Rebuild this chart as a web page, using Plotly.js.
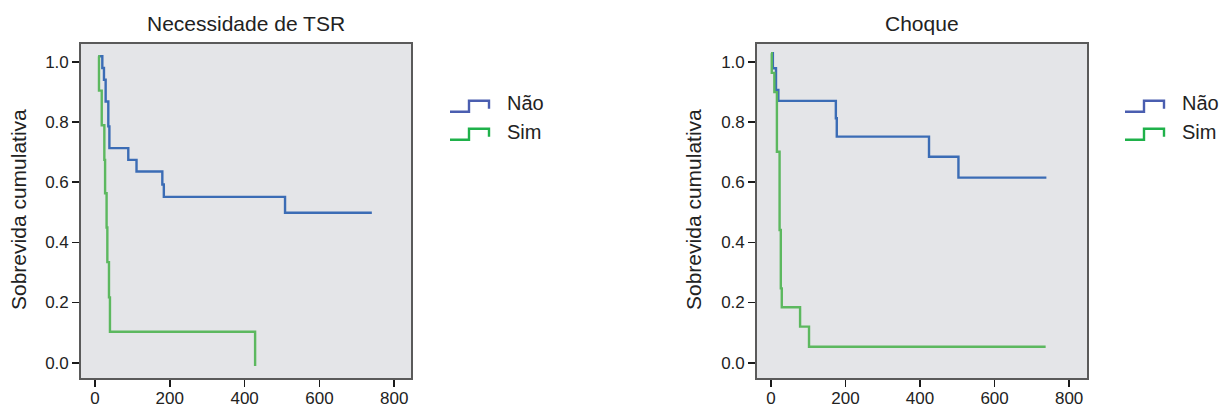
<!DOCTYPE html>
<html>
<head>
<meta charset="utf-8">
<script src="https://cdn.plot.ly/plotly-3.0.1.min.js"></script>
<style>
  html, body { margin: 0; padding: 0; background: #ffffff; }
  #chart { width: 1219px; height: 408px; }
</style>
</head>
<body>
<div id="chart"></div>
<script>
// ---- Data (days vs cumulative survival) ----
const panelTitles = ["Necessidade de TSR", "Choque"];
const seriesNames = ["Não", "Sim"];
const yAxisTitle = "Sobrevida cumulativa";
const xTickVals = [0, 200, 400, 600, 800];
const yTickVals = [0.0, 0.2, 0.4, 0.6, 0.8, 1.0];

// Panel 1: Necessidade de TSR
const tsrNaoX = [9, 19.6, 24, 28.5, 35.6, 38.5, 89, 111, 180, 184, 508, 740];
const tsrNaoY = [1.018, 0.979, 0.940, 0.868, 0.785, 0.713, 0.674, 0.635, 0.592, 0.551, 0.498, 0.498];
const tsrSimX = [9, 10.7, 18, 25, 27, 31, 33, 37.4, 40, 428];
const tsrSimY = [1.018, 0.904, 0.789, 0.674, 0.563, 0.449, 0.334, 0.217, 0.103, -0.011];

// Panel 2: Choque
const chqNaoX = [2, 5, 13.4, 19.7, 174, 176.5, 424, 503, 739];
const chqNaoY = [1.028, 0.978, 0.906, 0.870, 0.812, 0.751, 0.684, 0.615, 0.615];
const chqSimX = [0, 2, 9, 15.8, 23, 26.3, 28.9, 78, 102, 737];
const chqSimY = [1.028, 0.963, 0.899, 0.701, 0.441, 0.247, 0.184, 0.120, 0.053, 0.053];

// ---- Styles ----
const lineBlue = "#3b6cb5";
const lineGreen = "#5cb85f";
const legBlue = "#4a5eb0";
const legGreen = "#1fb14a";
const bg = "#e4e5e8";
const font = "Liberation Sans, Arial, Helvetica, sans-serif";
const W = 1219, H = 408;

function px(x) { return x / W; }
function py(y) { return 1 - y / H; }

const traces = [
  {x: tsrNaoX, y: tsrNaoY, xaxis: "x", yaxis: "y", name: seriesNames[0]},
  {x: tsrSimX, y: tsrSimY, xaxis: "x", yaxis: "y", name: seriesNames[1]},
  {x: chqNaoX, y: chqNaoY, xaxis: "x2", yaxis: "y2", name: seriesNames[0]},
  {x: chqSimX, y: chqSimY, xaxis: "x2", yaxis: "y2", name: seriesNames[1]}
].map((t, i) => Object.assign(t, {
  type: "scatter", mode: "lines",
  line: {shape: "hv", color: (i % 2 === 0) ? lineBlue : lineGreen, width: 2.4},
  showlegend: false, hoverinfo: "skip"
}));

const yDomain = [py(378), py(44)];
function xAxis(domain, range) {
  return {
    domain: domain, range: range, tickvals: xTickVals,
    ticks: "outside", ticklen: 7, tickwidth: 1.6, tickcolor: "#1a1a1a",
    ticklabelstandoff: -3,
    showline: true, mirror: true, linecolor: "#5a5a5a", linewidth: 1.8,
    showgrid: false, zeroline: false,
    tickfont: {family: font, size: 17, color: "#222"}, fixedrange: true
  };
}
function yAxis(anchor) {
  return {
    domain: yDomain, range: [-0.0508, 1.0588], tickvals: yTickVals, tickformat: ".1f",
    anchor: anchor,
    ticks: "outside", ticklen: 7, tickwidth: 1.6, tickcolor: "#1a1a1a",
    showline: true, mirror: true, linecolor: "#5a5a5a", linewidth: 1.8,
    showgrid: false, zeroline: false,
    tickfont: {family: font, size: 17, color: "#222"}, fixedrange: true
  };
}

const xa1 = xAxis([px(81), px(411)], [-37.4, 844.7]); xa1.anchor = "y";
const xa2 = xAxis([px(757), px(1087)], [-37.6, 848]); xa2.anchor = "y2";

// Legend (step-shaped icons) drawn in paper coordinates
function stepIcon(x0, yLow, color) {
  const x1 = x0 + 19, x2 = x0 + 39, yHigh = yLow - 11, yEnd = yLow - 3;
  return {
    type: "path", xref: "paper", yref: "paper",
    path: `M ${px(x0)} ${py(yLow)} L ${px(x1)} ${py(yLow)} L ${px(x1)} ${py(yHigh)} L ${px(x2)} ${py(yHigh)} L ${px(x2)} ${py(yEnd)}`,
    line: {color: color, width: 2.4}
  };
}
const legendPos = [{x: 450, tx: 505}, {x: 1125, tx: 1180}];
const shapes = [];
const annotations = [];
legendPos.forEach(p => {
  shapes.push(stepIcon(p.x, 111.7, legBlue));
  shapes.push(stepIcon(p.x, 139.7, legGreen));
  annotations.push({xref: "paper", yref: "paper", x: px(p.tx), y: py(103), xanchor: "left", yanchor: "middle",
    text: seriesNames[0], showarrow: false, font: {family: font, size: 20, color: "#222"}});
  annotations.push({xref: "paper", yref: "paper", x: px(p.tx), y: py(131.5), xanchor: "left", yanchor: "middle",
    text: seriesNames[1], showarrow: false, font: {family: font, size: 20, color: "#222"}});
});
// Panel titles
[[246, panelTitles[0]], [922, panelTitles[1]]].forEach(([cx, t]) => {
  annotations.push({xref: "paper", yref: "paper", x: px(cx), y: py(23), xanchor: "center", yanchor: "middle",
    text: t, showarrow: false, font: {family: font, size: 21, color: "#222"}});
});
// Y axis titles
[19, 694].forEach(cx => {
  annotations.push({xref: "paper", yref: "paper", x: px(cx), y: py(210), xanchor: "center", yanchor: "middle",
    text: yAxisTitle, textangle: -90, showarrow: false, font: {family: font, size: 21, color: "#222"}});
});

const layout = {
  width: W, height: H,
  margin: {l: 0, r: 0, t: 0, b: 0},
  paper_bgcolor: "#ffffff", plot_bgcolor: bg,
  showlegend: false,
  xaxis: xa1, yaxis: yAxis("x"),
  xaxis2: xa2, yaxis2: yAxis("x2"),
  shapes: shapes, annotations: annotations
};

Plotly.newPlot("chart", traces, layout, {staticPlot: true, displayModeBar: false});
</script>
</body>
</html>
